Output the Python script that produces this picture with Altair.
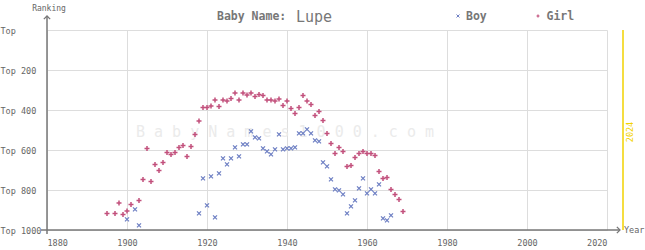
import altair as alt
import pandas as pd

# ---- data ----
boy_years = [1900, 1902, 1903, 1918, 1919, 1920, 1921, 1922, 1923, 1924, 1925, 1926,
             1927, 1928, 1929, 1930, 1931, 1932, 1933, 1934, 1935, 1936, 1937, 1938,
             1939, 1940, 1941, 1942, 1943, 1944, 1945, 1946, 1947, 1948, 1949, 1950,
             1951, 1952, 1953, 1954, 1955, 1956, 1957, 1958, 1959, 1960, 1961, 1962,
             1963, 1964, 1965, 1966]
boy_ranks = [947, 897, 977, 917, 742, 877, 732, 937, 717, 642, 672, 642,
             587, 632, 572, 572, 507, 537, 542, 592, 607, 622, 597, 522,
             597, 592, 592, 587, 517, 517, 497, 517, 552, 557, 662, 682,
             747, 797, 802, 822, 917, 882, 852, 792, 742, 817, 797, 817,
             772, 942, 952, 927]

girl_years = [1895, 1897, 1898, 1899, 1900, 1901, 1903, 1904, 1905, 1906, 1907, 1908,
              1909, 1910, 1911, 1912, 1913, 1914, 1915, 1916, 1917, 1918, 1919, 1920,
              1921, 1922, 1923, 1924, 1925, 1926, 1927, 1928, 1929, 1930, 1931, 1932,
              1933, 1934, 1935, 1936, 1937, 1938, 1939, 1940, 1941, 1942, 1943, 1944,
              1945, 1946, 1947, 1948, 1949, 1950, 1951, 1952, 1953, 1954, 1955, 1956,
              1957, 1958, 1959, 1960, 1961, 1962, 1963, 1964, 1965, 1966, 1967, 1968,
              1969]
girl_ranks = [917, 917, 865, 922, 905, 872, 852, 747, 592, 757, 672, 702,
              662, 612, 622, 612, 587, 577, 632, 582, 522, 455, 387, 387,
              380, 350, 382, 350, 355, 342, 315, 350, 315, 325, 315, 332,
              322, 327, 350, 350, 355, 345, 377, 355, 392, 417, 387, 327,
              355, 372, 427, 407, 452, 517, 567, 617, 587, 607, 682, 677,
              637, 617, 607, 617, 617, 627, 707, 742, 737, 797, 822, 847,
              907]

x_ticks = [1880, 1900, 1920, 1940, 1960, 1980, 2000, 2020]
y_ticks = [0, 200, 400, 600, 800, 1000]
current_year = [2024]
title_parts = ["Baby Name:", "Lupe"]
legend_labels = ["Boy", "Girl"]
watermark = "B a b y N a m e s 1 0 0 0 . c o m"

boys = pd.DataFrame({"year": boy_years, "rank": boy_ranks})
girls = pd.DataFrame({"year": girl_years, "rank": girl_ranks})
cur = pd.DataFrame({"year": current_year})
one = pd.DataFrame({"a": [0]})

FONT = "DejaVu Sans Mono"
BOY = "#6f80c4"
GIRL = "#c2507c"
YELLOW = "#f2d200"
AXIS = "#777777"
TXT = "#666666"
GRID = "#dddddd"

X_SHAPE = "M-1,-1L1,1M-1,1L1,-1"
PLUS_SHAPE = "M-1,0L1,0M0,-1L0,1"

x_scale = alt.Scale(domain=[1880, 2020], nice=False, zero=False)
y_scale = alt.Scale(domain=[0, 1000], reverse=True, nice=False, zero=False)

x_axis = alt.Axis(values=x_ticks, format="d", title=None, domain=False, ticks=False,
                  grid=True, gridColor=GRID, gridWidth=1, labelFont=FONT,
                  labelFontSize=8.5, labelColor=TXT, labelPadding=8, labelOverlap=False)
y_axis = alt.Axis(values=y_ticks, title=None, domain=False, ticks=False,
                  grid=True, gridColor=GRID, gridWidth=1,
                  labelExpr="datum.value == 0 ? 'Top' : 'Top ' + datum.value",
                  labelAlign="left", labelBaseline="middle", labelPadding=47,
                  labelFont=FONT, labelFontSize=8.5, labelColor=TXT, labelOverlap=False)

X = alt.X("year:Q", scale=x_scale, axis=x_axis)
Y = alt.Y("rank:Q", scale=y_scale, axis=y_axis)

wm = alt.Chart(one).mark_text(text=watermark, font=FONT, fontSize=15, color="#ebebeb",
                              align="left", baseline="middle").encode(
    x=alt.value(89), y=alt.value(102))

boy_layer = alt.Chart(boys).mark_point(shape=X_SHAPE, filled=False, size=16,
                                       strokeWidth=1.3, color=BOY, opacity=1).encode(x=X, y=Y)
girl_layer = alt.Chart(girls).mark_point(shape=PLUS_SHAPE, filled=False, size=25,
                                         strokeWidth=1.5, color=GIRL, opacity=1).encode(x=X, y=Y)

cur_rule = alt.Chart(cur).mark_rule(color=YELLOW, strokeWidth=1.5).encode(
    x=X, y=alt.value(0), y2=alt.value(200))
cur_text = alt.Chart(cur).mark_text(angle=270, color=YELLOW, font=FONT, fontSize=8.5,
                                    align="center", baseline="middle", dy=7).encode(
    x=X, y=alt.value(102), text=alt.Text("year:Q", format="d"))

x_line = alt.Chart(one).mark_rule(color=AXIS, strokeWidth=1.5).encode(
    x=alt.value(-6), x2=alt.value(573), y=alt.value(200))
y_line = alt.Chart(one).mark_rule(color=AXIS, strokeWidth=1.5).encode(
    x=alt.value(0), y=alt.value(-14), y2=alt.value(204))
x_arrow = alt.Chart(one).mark_point(shape="M-1,-1L0,0L-1,1", filled=False, size=40,
                                    strokeWidth=1.3, color=AXIS, opacity=1).encode(
    x=alt.value(573), y=alt.value(200))
y_arrow = alt.Chart(one).mark_point(shape="M-1,1L0,0L1,1", filled=False, size=40,
                                    strokeWidth=1.3, color=AXIS, opacity=1).encode(
    x=alt.value(0), y=alt.value(-14))

ranking = alt.Chart(one).mark_text(text="Ranking", font=FONT, fontSize=8, color=TXT,
                                   align="center", baseline="middle").encode(
    x=alt.value(2), y=alt.value(-21))
year_lbl = alt.Chart(one).mark_text(text="Year", font=FONT, fontSize=8.5, color=TXT,
                                    align="left", baseline="middle").encode(
    x=alt.value(577), y=alt.value(200))

title1 = alt.Chart(one).mark_text(text=title_parts[0], font=FONT, fontSize=11.5,
                                  fontWeight="bold", color=AXIS, align="left",
                                  baseline="middle").encode(x=alt.value(170), y=alt.value(-13))
title2 = alt.Chart(one).mark_text(text=title_parts[1], font=FONT, fontSize=15,
                                  color=AXIS, align="left",
                                  baseline="middle").encode(x=alt.value(249), y=alt.value(-13))

leg_boy_sym = alt.Chart(one).mark_point(shape=X_SHAPE, filled=False, size=9,
                                        strokeWidth=1, color=BOY, opacity=1).encode(
    x=alt.value(411), y=alt.value(-14))
leg_boy = alt.Chart(one).mark_text(text=legend_labels[0], font=FONT, fontSize=11.5,
                                   fontWeight="bold", color=AXIS, align="left",
                                   baseline="middle").encode(x=alt.value(419), y=alt.value(-13))
leg_girl_sym = alt.Chart(one).mark_point(shape=PLUS_SHAPE, filled=False, size=9,
                                         strokeWidth=1.2, color=GIRL, opacity=1).encode(
    x=alt.value(491), y=alt.value(-14))
leg_girl = alt.Chart(one).mark_text(text=legend_labels[1], font=FONT, fontSize=11.5,
                                    fontWeight="bold", color=AXIS, align="left",
                                    baseline="middle").encode(x=alt.value(499.5), y=alt.value(-13))

chart = alt.layer(
    wm, boy_layer, cur_rule, cur_text, girl_layer,
    x_line, y_line, x_arrow, y_arrow, ranking, year_lbl,
    title1, title2, leg_boy_sym, leg_boy, leg_girl_sym, leg_girl
).properties(
    width=560, height=200,
    padding={"left": 47, "top": 30, "right": 38, "bottom": 20},
    autosize=alt.AutoSizeParams(type="none"),
    background="white",
).configure_view(stroke=None)

chart.save("out.html", embed_options={"renderer": "svg", "actions": False})
